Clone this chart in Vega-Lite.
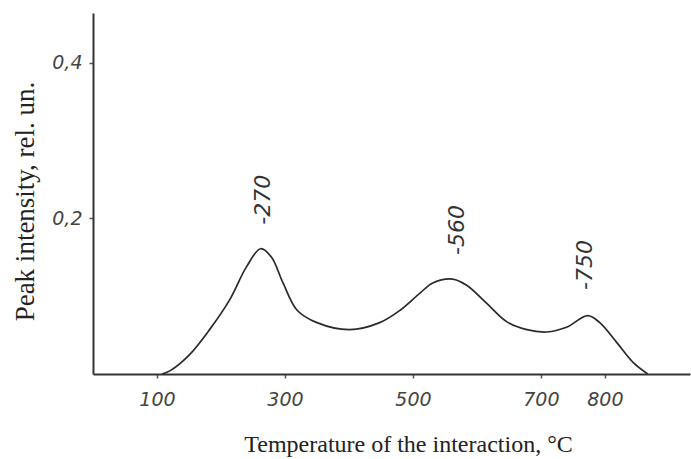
{
  "$schema": "https://vega.github.io/schema/vega-lite/v6.json",
  "width": 597,
  "height": 361,
  "autosize": "none",
  "padding": {"left": 93, "top": 13, "right": 1, "bottom": 85},
  "background": "white",
  "config": {"view": {"stroke": null}},
  "datasets": {
    "curve": [
      {"t": 108, "v": 0},
      {"t": 120, "v": 0.004},
      {"t": 151, "v": 0.025},
      {"t": 183, "v": 0.058},
      {"t": 214, "v": 0.096},
      {"t": 240, "v": 0.138},
      {"t": 262, "v": 0.161},
      {"t": 279, "v": 0.15},
      {"t": 297, "v": 0.117},
      {"t": 319, "v": 0.082},
      {"t": 350, "v": 0.066},
      {"t": 401, "v": 0.057},
      {"t": 448, "v": 0.066},
      {"t": 480, "v": 0.082},
      {"t": 511, "v": 0.104},
      {"t": 531, "v": 0.117},
      {"t": 562, "v": 0.122},
      {"t": 584, "v": 0.114},
      {"t": 615, "v": 0.091},
      {"t": 647, "v": 0.067},
      {"t": 678, "v": 0.057},
      {"t": 709, "v": 0.054},
      {"t": 740, "v": 0.06},
      {"t": 773, "v": 0.075},
      {"t": 792, "v": 0.066},
      {"t": 819, "v": 0.04},
      {"t": 844, "v": 0.015},
      {"t": 867, "v": 0}
    ],
    "peaks": [
      {"t": 266, "v": 0.224, "label": "-270"},
      {"t": 569, "v": 0.185, "label": "-560"},
      {"t": 769, "v": 0.14, "label": "-750"}
    ]
  },
  "layer": [
    {
      "data": {"name": "curve"},
      "mark": {"type": "line", "interpolate": "catmull-rom", "color": "#2a2a2a", "strokeWidth": 1.7},
      "encoding": {
        "x": {
          "field": "t", "type": "quantitative",
          "scale": {"domain": [0, 933], "nice": false, "zero": false},
          "axis": {
            "values": [100, 300, 500, 700, 800],
            "grid": false,
            "ticks": true,
            "title": "Temperature of the interaction, °C",
            "titleFont": "Liberation Serif",
            "titleFontSize": 24,
            "titleFontWeight": "normal",
            "titleColor": "#222",
            "titleX": 315,
            "titleY": 77,
            "titleAlign": "center",
            "titleBaseline": "alphabetic",
            "labelFont": "DejaVu Sans",
            "labelFontStyle": "italic",
            "labelFontSize": 19,
            "labelColor": "#444",
            "labelPadding": 12,
            "labelDx": 4,
            "tickSize": 4,
            "tickWidth": 1.5,
            "tickColor": "#555",
            "domainColor": "#333",
            "domainWidth": 2
          }
        },
        "y": {
          "field": "v", "type": "quantitative",
          "scale": {"domain": [0, 0.464], "nice": false},
          "axis": {
            "values": [0.2, 0.4],
            "labelExpr": "replace(format(datum.value, '.1f'), '.', ',')",
            "grid": false,
            "ticks": true,
            "title": "Peak intensity, rel. un.",
            "titleFont": "Liberation Serif",
            "titleFontSize": 27,
            "titleFontWeight": "normal",
            "titleColor": "#222",
            "titleAngle": 270,
            "titleX": -68,
            "titleY": 188,
            "titleAlign": "center",
            "titleBaseline": "middle",
            "labelFont": "DejaVu Sans",
            "labelFontStyle": "italic",
            "labelFontSize": 19,
            "labelColor": "#444",
            "labelPadding": 7,
            "tickSize": 4,
            "tickWidth": 1.5,
            "tickColor": "#555",
            "domainColor": "#333",
            "domainWidth": 2
          }
        }
      }
    },
    {
      "data": {"name": "peaks"},
      "mark": {"type": "text", "angle": 270, "align": "center", "baseline": "middle", "font": "DejaVu Sans", "fontStyle": "italic", "fontSize": 22, "color": "#333"},
      "encoding": {
        "x": {"field": "t", "type": "quantitative"},
        "y": {"field": "v", "type": "quantitative"},
        "text": {"field": "label"}
      }
    }
  ]
}
